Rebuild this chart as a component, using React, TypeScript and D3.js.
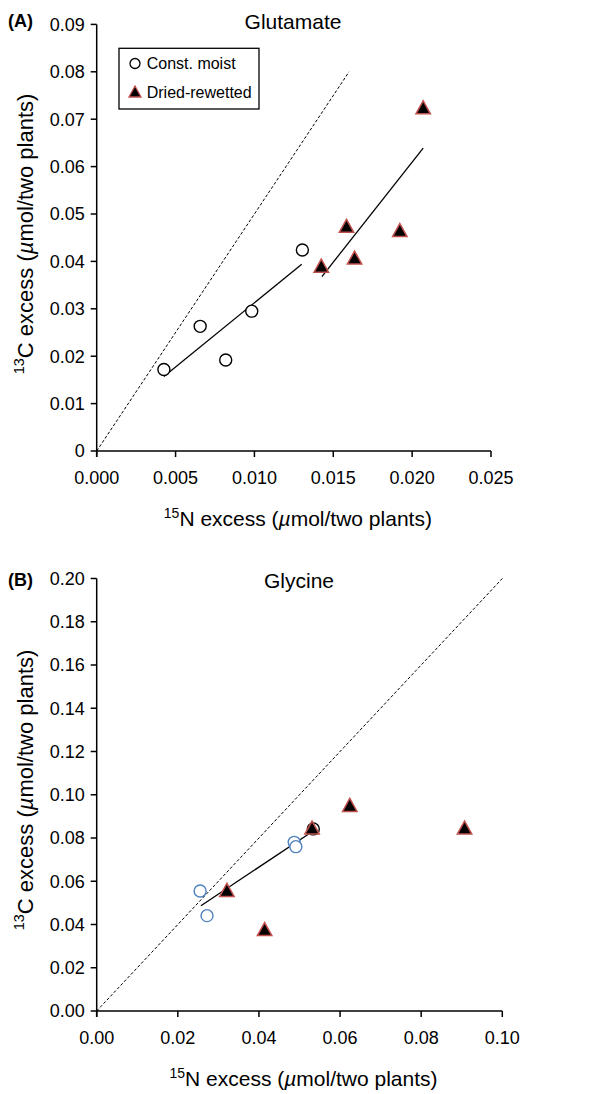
import React, { useEffect, useRef } from "react";
import * as d3 from "d3";

// Panel A: glutamate
const gluConstN = [0.00426, 0.00656, 0.00818, 0.00983, 0.01304];
const gluConstC = [0.0172, 0.0263, 0.0192, 0.0295, 0.0424];
const gluDryN = [0.01424, 0.01584, 0.01635, 0.01922, 0.0207];
const gluDryC = [0.0391, 0.0475, 0.0408, 0.0466, 0.0725];
const gluConstFit = [[0.00426, 0.0157], [0.0130, 0.0394]];
const gluDryFit = [[0.01428, 0.0368], [0.0207, 0.0639]];
const gluRatio = [[0, 0], [0.016, 0.08]];
const gluXTicks = [0, 0.005, 0.01, 0.015, 0.02, 0.025];
const gluYTicks = [0, 0.01, 0.02, 0.03, 0.04, 0.05, 0.06, 0.07, 0.08, 0.09];

// Panel B: glycine
const glyConstN = [0.0255, 0.0272, 0.0487, 0.0491];
const glyConstC = [0.0555, 0.0441, 0.078, 0.076];
const glyConstBlackN = [0.0534];
const glyConstBlackC = [0.0842];
const glyDryN = [0.0321, 0.0414, 0.0531, 0.0624, 0.0907];
const glyDryC = [0.056, 0.0379, 0.0848, 0.0953, 0.0848];
const glyFit = [[0.0257, 0.0487], [0.0531, 0.0829]];
const glyRatio = [[0, 0], [0.1, 0.2]];
const glyXTicks = [0, 0.02, 0.04, 0.06, 0.08, 0.1];
const glyYTicks = [0, 0.02, 0.04, 0.06, 0.08, 0.1, 0.12, 0.14, 0.16, 0.18, 0.2];

const FONT = "'Liberation Sans', Arial, sans-serif";
const RED = "#c0504d";
const BLUE = "#4f81bd";

const tri = (w = 7.2, h = 6.5) => `M0,${-h}L${w},${h}L${-w},${h}Z`;

function drawPanel(svg, cfg) {
  const g = svg.append("g");
  const x = d3.scaleLinear().domain(cfg.xDomain).range(cfg.xRange);
  const y = d3.scaleLinear().domain(cfg.yDomain).range(cfg.yRange);
  const [x0, x1] = cfg.xRange;
  const [y0, y1] = cfg.yRange;

  // axes
  g.append("line").attr("x1", x0).attr("x2", x0).attr("y1", y0 + 6).attr("y2", y1)
    .attr("stroke", "#000").attr("stroke-width", 1.5);
  g.append("line").attr("x1", x0).attr("x2", x1).attr("y1", y0).attr("y2", y0)
    .attr("stroke", "#000").attr("stroke-width", 1.5);

  g.selectAll(".yt").data(cfg.yTicks).join("line")
    .attr("x1", x0 - 6).attr("x2", x0).attr("y1", (d) => y(d)).attr("y2", (d) => y(d))
    .attr("stroke", "#000").attr("stroke-width", 1.5);
  g.selectAll(".xt").data(cfg.xTicks).join("line")
    .attr("x1", (d) => x(d)).attr("x2", (d) => x(d)).attr("y1", y0).attr("y2", y0 + 6)
    .attr("stroke", "#000").attr("stroke-width", 1.5);

  g.selectAll(".yl").data(cfg.yTicks).join("text")
    .attr("x", x0 - 12).attr("y", (d) => y(d) + 6.3)
    .attr("text-anchor", "end").attr("font-size", 18).attr("font-family", FONT)
    .text(cfg.yFmt);
  g.selectAll(".xl").data(cfg.xTicks).join("text")
    .attr("x", (d) => x(d)).attr("y", y0 + 33)
    .attr("text-anchor", "middle").attr("font-size", 18).attr("font-family", FONT)
    .text(cfg.xFmt);

  // ratio line and fits
  const line = d3.line().x((d) => x(d[0])).y((d) => y(d[1]));
  g.append("path").attr("d", line(cfg.ratio)).attr("fill", "none")
    .attr("stroke", "#000").attr("stroke-width", 1).attr("stroke-dasharray", "3,2");
  cfg.fits.forEach((f) => {
    g.append("path").attr("d", line(f)).attr("fill", "none")
      .attr("stroke", "#000").attr("stroke-width", 1.3);
  });

  // markers
  cfg.circles.forEach((c) => {
    g.selectAll(null).data(c.n).join("circle")
      .attr("cx", (d) => x(d)).attr("cy", (d, i) => y(c.c[i])).attr("r", 6)
      .attr("fill", "#fff").attr("stroke", c.color).attr("stroke-width", 1.4);
  });
  g.selectAll(null).data(cfg.dryN).join("path")
    .attr("d", tri())
    .attr("transform", (d, i) => `translate(${x(d)},${y(cfg.dryC[i])})`)
    .attr("fill", "#000").attr("stroke", RED).attr("stroke-width", 1.5);

  // titles
  g.append("text").attr("x", cfg.titleX).attr("y", cfg.titleY)
    .attr("text-anchor", "middle").attr("font-size", 21).attr("font-family", FONT)
    .text(cfg.title);
  g.append("text").attr("x", 8).attr("y", cfg.titleY - 2)
    .attr("font-size", 18).attr("font-weight", 700).attr("font-family", FONT)
    .text(cfg.tag);

  const xt = g.append("text").attr("x", (x0 + x1) / 2 + 4).attr("y", y0 + 75)
    .attr("text-anchor", "middle").attr("font-size", 21).attr("font-family", FONT);
  xt.append("tspan").attr("font-size", 14).attr("dy", -8).text("15");
  xt.append("tspan").attr("dy", 8).text("N excess (");
  xt.append("tspan").attr("font-style", "italic").text("\u00b5");
  xt.append("tspan").text("mol/two plants)");

  const yt = g.append("text")
    .attr("transform", `translate(33,${cfg.yTitleY}) rotate(-90)`)
    .attr("text-anchor", "middle").attr("font-size", 22).attr("font-family", FONT);
  yt.append("tspan").attr("font-size", 14.5).attr("dy", -9).text("13");
  yt.append("tspan").attr("dy", 9).text("C excess (");
  yt.append("tspan").attr("font-style", "italic").text("\u00b5");
  yt.append("tspan").text("mol/two plants)");
}

export default function App() {
  const ref = useRef(null);

  useEffect(() => {
    const svg = d3.select(ref.current);
    svg.selectAll("*").remove();

    drawPanel(svg, {
      xDomain: [0, 0.025], xRange: [96.7, 491],
      yDomain: [0, 0.09], yRange: [451, 24.4],
      xTicks: gluXTicks, yTicks: gluYTicks,
      xFmt: d3.format(".3f"),
      yFmt: (d) => (d === 0 ? "0" : d3.format(".2f")(d)),
      ratio: gluRatio, fits: [gluConstFit, gluDryFit],
      circles: [{ n: gluConstN, c: gluConstC, color: "#000" }],
      dryN: gluDryN, dryC: gluDryC,
      title: "Glutamate", titleX: 293, titleY: 29, tag: "(A)", yTitleY: 234,
    });

    drawPanel(svg, {
      xDomain: [0, 0.1], xRange: [96.7, 502.3],
      yDomain: [0, 0.2], yRange: [1011, 578.5],
      xTicks: glyXTicks, yTicks: glyYTicks,
      xFmt: d3.format(".2f"),
      yFmt: d3.format(".2f"),
      ratio: glyRatio, fits: [glyFit],
      circles: [
        { n: glyConstN, c: glyConstC, color: BLUE },
        { n: glyConstBlackN, c: glyConstBlackC, color: "#000" },
      ],
      dryN: glyDryN, dryC: glyDryC,
      title: "Glycine", titleX: 299, titleY: 588, tag: "(B)", yTitleY: 790,
    });

    // legend
    const lg = svg.append("g");
    lg.append("rect").attr("x", 119).attr("y", 48.3).attr("width", 140).attr("height", 60.7)
      .attr("fill", "#fff").attr("stroke", "#000").attr("stroke-width", 1.3);
    lg.append("circle").attr("cx", 135).attr("cy", 63.5).attr("r", 5)
      .attr("fill", "#fff").attr("stroke", "#000").attr("stroke-width", 1.3);
    lg.append("path").attr("d", tri(6, 5.5)).attr("transform", "translate(135,91.5)")
      .attr("fill", "#000").attr("stroke", RED).attr("stroke-width", 1.3);
    lg.append("text").attr("x", 146.7).attr("y", 69.3).attr("font-size", 16)
      .attr("font-family", FONT).text("Const. moist");
    lg.append("text").attr("x", 146.7).attr("y", 97.5).attr("font-size", 16)
      .attr("font-family", FONT).text("Dried-rewetted");
  }, []);

  return (
    <svg
      ref={ref}
      width={610}
      height={1094}
      style={{ position: "absolute", left: 0, top: 0, background: "#fff" }}
    />
  );
}
